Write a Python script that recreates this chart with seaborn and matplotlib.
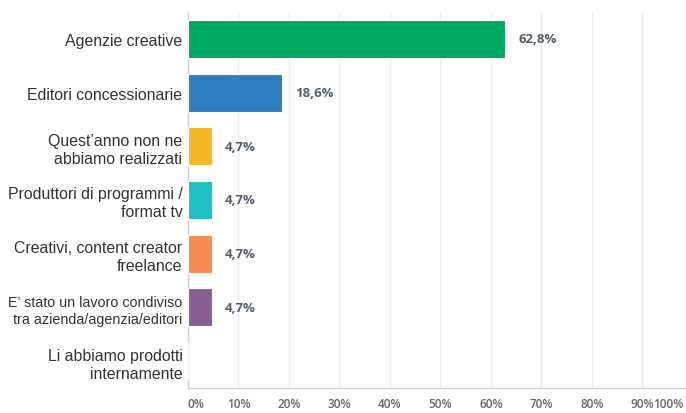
import matplotlib
matplotlib.use("Agg")
import matplotlib.pyplot as plt
import seaborn as sns
import pandas as pd

categories = [
    "Agenzie creative",
    "Editori concessionarie",
    "Quest\u2019anno non ne\nabbiamo realizzati",
    "Produttori di programmi /\nformat tv",
    "Creativi, content creator\nfreelance",
    "E\u2019 stato un lavoro condiviso\ntra azienda/agenzia/editori",
    "Li abbiamo prodotti\ninternamente",
]
values = [62.8, 18.6, 4.7, 4.7, 4.7, 4.7, 0.0]
value_labels = ["62,8%", "18,6%", "4,7%", "4,7%", "4,7%", "4,7%", ""]
colors = ["#00a862", "#2e7bbf", "#f5b927", "#1ebfc5", "#f78b50", "#8a5e97", "#cccccc"]
tick_values = [0, 10, 20, 30, 40, 50, 60, 70, 80, 90, 100]
tick_labels = ["0%", "10%", "20%", "30%", "40%", "50%", "60%", "70%", "80%", "90%", "100%"]

df = pd.DataFrame({"cat": categories, "val": values})

sns.set_style("white")
plt.rcParams["font.family"] = ["Liberation Sans", "DejaVu Sans"]

fig = plt.figure(figsize=(6.86, 4.14), dpi=100)
ax = fig.add_axes([188 / 686, 1 - 389 / 414, 505 / 686, 376 / 414])

sns.barplot(data=df, x="val", y="cat", hue="cat", palette=colors, legend=False,
            orient="h", width=0.71, ax=ax, saturation=1, zorder=3)

for p in ax.patches:
    p.set_edgecolor("white")
    p.set_linewidth(0.8)

tick_font = dict(fontfamily="Open Sans", fontweight="semibold", fontsize=8.5, color="#666666")
ax.set_xlim(0, 100)
ax.set_ylim(6.5, -0.5)
ax.set_xticks(tick_values)
ax.set_xticklabels(tick_labels[:-1] + [""], **tick_font)
ax.get_xticklabels()[0].set_ha("left")
ax.tick_params(axis="x", length=0, pad=6.5)
# last tick label pulled inside the figure edge, as in the reference
ax.annotate(tick_labels[-1], xy=(1, 0), xycoords=("figure fraction", "axes fraction"),
            xytext=(-1.5, -6.5), textcoords="offset points", ha="right", va="top",
            **tick_font)
ax.tick_params(axis="y", length=0, pad=4, labelsize=11.4, labelcolor="#333333")
for i, t in enumerate(ax.get_yticklabels()):
    t.set_ha("right")
    t.set_multialignment("right")
    t.set_linespacing(1.25)
    if i == 5:
        t.set_fontsize(10.3)

ax.set_xlabel("")
ax.set_ylabel("")
ax.grid(axis="x", color="#ececec", linewidth=1, zorder=0)
ax.grid(axis="y", visible=False)
for s in ["top", "right"]:
    ax.spines[s].set_visible(False)
for s in ["left", "bottom"]:
    ax.spines[s].set_color("#cfcfcf")
    ax.spines[s].set_linewidth(1)

for i, (v, lab) in enumerate(zip(values, value_labels)):
    if lab:
        ax.annotate(lab, xy=(v, i), xytext=(9.5, 0), textcoords="offset points",
                    ha="left", va="center", fontsize=9.5, fontfamily="Open Sans",
                    fontweight="bold", color="#545e6b")

fig.savefig("out.png", dpi=100)
